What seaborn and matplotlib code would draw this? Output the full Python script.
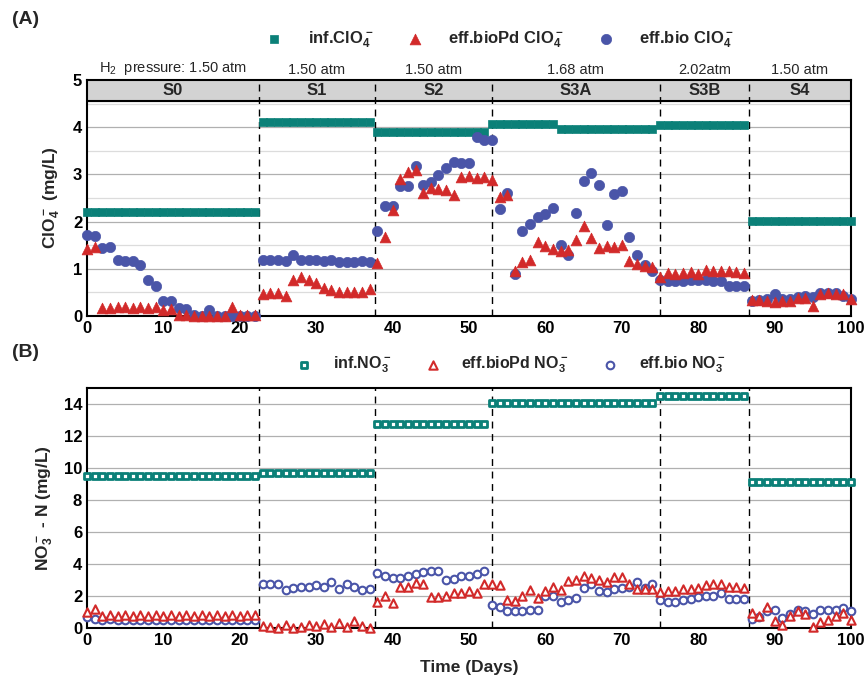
import matplotlib.pyplot as plt
import numpy as np
import pandas as pd
import seaborn as sns
from matplotlib.ticker import MultipleLocator

# stage info
stage_edges = [0, 22.5, 37.7, 53, 75, 86.6, 100]
stage_names = ["S0", "S1", "S2", "S3A", "S3B", "S4"]
pressures = ["H$_2$  pressure: 1.50 atm", "1.50 atm", "1.50 atm", "1.68 atm", "2.02atm", "1.50 atm"]

days = np.arange(0, 101)

# (A) perchlorate, mg/L
inf_clo4 = ([2.21] * 23 + [4.10] * 15 + [3.89] * 15 + [4.06] * 9 + [3.96] * 13
            + [4.05] * 12 + [2.02] * 14)
eff_biopd_clo4 = [
    1.42, 1.47, 0.18, 0.17, 0.19, 0.20, 0.18, 0.19, 0.17, 0.20, 0.13, 0.15, 0.02, 0.02, 0.0, 0.0,
    0.0, 0.0, 0.0, 0.20, 0.02, 0.02, 0.02,
    0.47, 0.48, 0.48, 0.43, 0.77, 0.82, 0.77, 0.70, 0.60, 0.55, 0.50, 0.50, 0.50, 0.50, 0.57,
    1.13, 1.68, 2.25, 2.90, 3.06, 3.10, 2.60, 2.71, 2.69, 2.66, 2.57, 2.94, 2.96, 2.92, 2.94, 2.89,
    2.52, 2.57, 0.96, 1.15, 1.18, 1.57, 1.48, 1.42, 1.37, 1.39, 1.62, 1.90, 1.65, 1.44, 1.48, 1.46,
    1.50, 1.16, 1.10, 1.06, 1.04,
    0.83, 0.92, 0.88, 0.92, 0.94, 0.88, 0.97, 0.95, 0.95, 0.95, 0.93, 0.92,
    0.33, 0.33, 0.32, 0.30, 0.32, 0.32, 0.39, 0.39, 0.21, 0.46, 0.48, 0.46, 0.47, 0.37,
]
eff_bio_clo4 = [
    1.72, 1.69, 1.44, 1.47, 1.19, 1.17, 1.17, 1.07, 0.76, 0.63, 0.32, 0.32, 0.18, 0.14, 0.02, 0.0,
    0.12, 0.0, 0.0, 0.0, 0.0, 0.0, 0.0,
    1.18, 1.18, 1.18, 1.17, 1.30, 1.18, 1.18, 1.18, 1.17, 1.18, 1.15, 1.15, 1.15, 1.16, 1.15,
    1.80, 2.32, 2.32, 2.76, 2.76, 3.18, 2.78, 2.84, 2.99, 3.13, 3.27, 3.24, 3.25, 3.80, 3.73, 3.72,
    2.27, 2.60, 0.90, 1.81, 1.95, 2.09, 2.17, 2.29, 1.50, 1.30, 2.18, 2.87, 3.04, 2.77, 1.92, 2.58,
    2.65, 1.68, 1.30, 1.08, 0.96,
    0.77, 0.74, 0.74, 0.75, 0.77, 0.77, 0.77, 0.75, 0.74, 0.63, 0.63, 0.63,
    0.32, 0.33, 0.35, 0.46, 0.35, 0.35, 0.40, 0.42, 0.40, 0.49, 0.49, 0.48, 0.42, 0.37,
]

# (B) nitrate-N, mg/L
inf_no3 = ([9.50] * 23 + [9.70] * 15 + [12.74] * 15 + [14.06] * 22 + [14.48] * 12
           + [9.14] * 14)
eff_biopd_no3 = [
    0.98, 1.20, 0.77, 0.80, 0.75, 0.80, 0.75, 0.80, 0.77, 0.80, 0.75, 0.80, 0.78, 0.80, 0.77, 0.80,
    0.75, 0.80, 0.77, 0.80, 0.77, 0.80, 0.80,
    0.15, 0.08, 0.00, 0.19, 0.00, 0.04, 0.19, 0.15, 0.25, 0.08, 0.29, 0.04, 0.46, 0.15, 0.00,
    1.61, 2.03, 1.55, 2.59, 2.55, 2.80, 2.76, 1.92, 1.92, 2.03, 2.18, 2.18, 2.34, 2.18, 2.72,
    2.72, 2.66, 1.76, 1.67, 2.03, 2.38, 1.88, 2.34, 2.55, 2.38, 2.93, 3.01, 3.28, 3.14, 2.97, 2.87,
    3.18, 3.18, 2.76, 2.45, 2.45, 2.45,
    2.24, 2.30, 2.34, 2.45, 2.45, 2.51, 2.66, 2.72, 2.72, 2.59, 2.59, 2.51,
    0.92, 0.77, 1.30, 0.42, 0.21, 0.77, 1.09, 0.88, 0.08, 0.36, 0.50, 0.77, 0.92, 0.50,
]
eff_bio_no3 = [
    0.67, 0.58, 0.50, 0.55, 0.48, 0.50, 0.48, 0.52, 0.50, 0.52, 0.48, 0.50, 0.52, 0.50, 0.52, 0.50,
    0.50, 0.52, 0.50, 0.50, 0.48, 0.52, 0.50,
    2.72, 2.72, 2.72, 2.38, 2.51, 2.55, 2.55, 2.66, 2.59, 2.87, 2.45, 2.72, 2.55, 2.38, 2.45,
    3.43, 3.28, 3.14, 3.14, 3.28, 3.39, 3.49, 3.54, 3.54, 3.01, 3.08, 3.22, 3.28, 3.39, 3.56,
    1.46, 1.30, 1.09, 1.05, 1.09, 1.13, 1.13, 1.97, 1.97, 1.61, 1.72, 1.88, 2.51, 2.76, 2.30, 2.24,
    2.45, 2.51, 2.55, 2.87, 2.51, 2.72,
    1.76, 1.61, 1.61, 1.76, 1.82, 1.92, 1.97, 1.97, 2.18, 1.82, 1.82, 1.82,
    0.56, 0.67, 1.05, 1.13, 0.63, 0.88, 1.13, 1.05, 0.88, 1.13, 1.13, 1.13, 1.26, 1.05,
]

teal = "#0b8078"
red = "#d22a2a"
blue = "#4a55a8"

df_a = pd.DataFrame({"day": days, "inf": inf_clo4, "biopd": eff_biopd_clo4, "bio": eff_bio_clo4})
df_b = pd.DataFrame({"day": days, "inf": inf_no3, "biopd": eff_biopd_no3, "bio": eff_bio_no3})

sns.set_style("white")
plt.rcParams["font.family"] = ["Liberation Sans", "DejaVu Sans"]
plt.rcParams["font.weight"] = "bold"
plt.rcParams["axes.labelweight"] = "bold"
plt.rcParams["mathtext.default"] = "regular"

fig = plt.figure(figsize=(8.67, 6.79), dpi=100)
ax1 = fig.add_axes([87 / 867, 1 - 316 / 679, 764 / 867, 236 / 679])
ax2 = fig.add_axes([87 / 867, 1 - 628 / 679, 764 / 867, 240 / 679])

# panel A
sns.scatterplot(data=df_a, x="day", y="inf", ax=ax1, marker="s", s=38, color=teal,
                edgecolor=teal, linewidth=0.5, clip_on=False, zorder=3, label="inf.ClO$_4^-$")
sns.scatterplot(data=df_a, x="day", y="bio", ax=ax1, marker="o", s=55, color=blue,
                edgecolor=blue, linewidth=0.5, clip_on=False, zorder=4, label="eff.bio ClO$_4^-$")
sns.scatterplot(data=df_a, x="day", y="biopd", ax=ax1, marker="^", s=60, color=red,
                edgecolor=red, linewidth=0.5, clip_on=False, zorder=5, label="eff.bioPd ClO$_4^-$")

# panel B
sns.scatterplot(data=df_b, x="day", y="inf", ax=ax2, marker="s", s=13, color="white",
                edgecolor=teal, linewidth=2.0, clip_on=False, zorder=3, label="inf.NO$_3^-$")
sns.scatterplot(data=df_b, x="day", y="bio", ax=ax2, marker="o", s=30, color="white",
                edgecolor=blue, linewidth=1.5, clip_on=False, zorder=4, label="eff.bio NO$_3^-$")
sns.scatterplot(data=df_b, x="day", y="biopd", ax=ax2, marker="^", s=36, color="white",
                edgecolor=red, linewidth=1.5, clip_on=False, zorder=5, label="eff.bioPd NO$_3^-$")

for ax in (ax1, ax2):
    if ax.get_legend() is not None:
        ax.get_legend().remove()
    ax.set_xlim(0, 100)
    ax.xaxis.set_major_locator(MultipleLocator(10))
    ax.xaxis.set_minor_locator(MultipleLocator(5))
    ax.tick_params(which="both", direction="in", top=False, right=False,
                   labelsize=12, width=1.2, colors="black")
    ax.tick_params(which="major", length=5)
    ax.tick_params(which="minor", length=3)
    ax.set_axisbelow(True)
    for sp in ax.spines.values():
        sp.set_linewidth(1.5)
        sp.set_color("black")
    for edge in stage_edges[1:-1]:
        ax.axvline(edge, color="black", ls=(0, (5, 4)), lw=1, zorder=2)

ax1.set_ylim(0, 5)
ax1.yaxis.set_major_locator(MultipleLocator(1))
ax1.yaxis.set_minor_locator(MultipleLocator(0.5))
ax1.yaxis.grid(True, which="major", color="#b0b0b0", lw=0.9)
ax1.yaxis.grid(True, which="minor", color="#dcdcdc", lw=0.9)
ax1.axhspan(4.55, 5, color="#d3d3d3", zorder=1)
ax1.axhline(4.55, color="black", lw=1.5, zorder=2)
for i, name in enumerate(stage_names):
    mid = (stage_edges[i] + stage_edges[i + 1]) / 2
    ax1.text(mid, 4.775, name, ha="center", va="center", fontsize=12, fontweight="bold")
    ax1.text(mid, 5.06, pressures[i], ha="center", va="bottom", fontsize=10.5,
             fontweight="normal", clip_on=False)
ax1.set_xlabel("")
ax1.set_ylabel("ClO$_4^-$ (mg/L)", fontsize=12.5, labelpad=8)

ax2.set_ylim(0, 15)
ax2.yaxis.set_major_locator(MultipleLocator(2))
ax2.yaxis.set_minor_locator(MultipleLocator(1))
ax2.yaxis.grid(True, which="major", color="#b0b0b0", lw=0.9)
ax2.set_ylabel("NO$_3^-$ - N (mg/L)", fontsize=12.5, labelpad=6)
ax2.set_xlabel("Time (Days)", fontsize=12.5, labelpad=9)

h1, l1 = ax1.get_legend_handles_labels()
order = [0, 2, 1]
fig.legend([h1[i] for i in order], [l1[i] for i in order], loc="center",
           bbox_to_anchor=(496 / 867, 1 - 40 / 679), ncol=3, frameon=False,
           prop={"size": 12, "weight": "bold"}, handletextpad=1.0, columnspacing=1.5,
           scatterpoints=1)
h2, l2 = ax2.get_legend_handles_labels()
fig.legend([h2[i] for i in order], [l2[i] for i in order], loc="center",
           bbox_to_anchor=(507 / 867, 1 - 365 / 679), ncol=3, frameon=False,
           prop={"size": 11.5, "weight": "bold"},
           handletextpad=0.8, columnspacing=1.6, scatterpoints=1)

fig.text(12 / 867, 1 - 20 / 679, "(A)", fontsize=14, fontweight="bold", va="center")
fig.text(12 / 867, 1 - 352 / 679, "(B)", fontsize=14, fontweight="bold", va="center")

fig.savefig("out.png", dpi=100)
